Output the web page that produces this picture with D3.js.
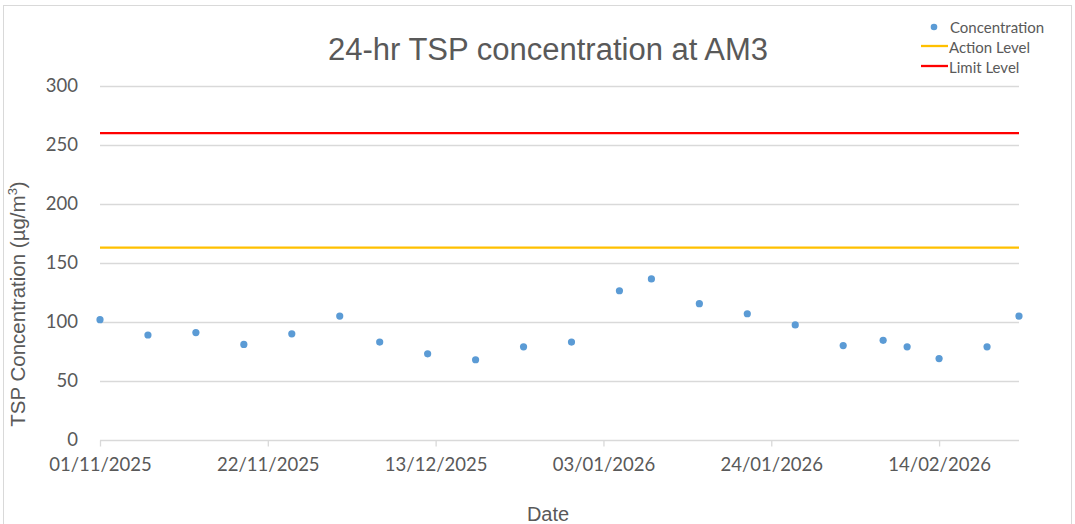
<!DOCTYPE html>
<html>
<head>
<meta charset="utf-8">
<script src="https://cdn.jsdelivr.net/npm/d3@7"></script>
<style>
  body { margin: 0; background: #fff; }
  svg { display: block; }
  .tick text { fill: #595959; }
</style>
</head>
<body>
<div class="plot"></div>
<script>
// DATA
let sampleDates = ["01/11/2025", "07/11/2025", "13/11/2025", "19/11/2025", "25/11/2025", "01/12/2025",
  "06/12/2025", "12/12/2025", "18/12/2025", "24/12/2025", "30/12/2025", "05/01/2026",
  "09/01/2026", "15/01/2026", "21/01/2026", "27/01/2026", "02/02/2026", "07/02/2026",
  "10/02/2026", "14/02/2026", "20/02/2026", "24/02/2026"];
let concentration = [102, 89, 91, 81, 90, 105, 83, 73, 68, 79, 83, 126.5,
  136.5, 115.5, 107, 97.5, 80, 84.5, 79, 69, 79, 105];
let actionLevel = 163;
let limitLevel = 260;
let xTickLabels = ["01/11/2025", "22/11/2025", "13/12/2025", "03/01/2026", "24/01/2026", "14/02/2026"];
let yTicks = [0, 50, 100, 150, 200, 250, 300];

//GENERAL VARIABLE INITIALIZATION
let w = 1075;
let h = 524;
let paddingLeft = 100;
let paddingRight = 1019;
let paddingTop = 86;
let paddingBottom = 440;
let textColor = "#595959";

let parseDate = d3.timeParse("%d/%m/%Y");
let points = sampleDates.map(function(d, i) {
  return { date: parseDate(d), value: concentration[i] };
});

let svg = d3.select(".plot").append("svg")
    .attr("width", w)
    .attr("height", h);

// chart border
svg.append("rect")
    .attr("x", 3.5)
    .attr("y", 5.5)
    .attr("width", 1068)
    .attr("height", 560)
    .attr("fill", "none")
    .attr("stroke", "#d9d9d9")
    .attr("stroke-width", 1);

//SCALES
let xScale = d3.scaleTime()
    .domain([parseDate(sampleDates[0]), parseDate(sampleDates[sampleDates.length - 1])])
    .range([paddingLeft, paddingRight]);

let yScale = d3.scaleLinear()
    .domain([0, 300])
    .range([paddingBottom, paddingTop]);

//GRIDLINES
svg.append("g")
    .selectAll("line")
    .data(yTicks)
    .enter()
    .append("line")
    .attr("x1", paddingLeft)
    .attr("x2", paddingRight)
    .attr("y1", function(d) { return Math.round(yScale(d)) + 0.5; })
    .attr("y2", function(d) { return Math.round(yScale(d)) + 0.5; })
    .attr("stroke", "#d9d9d9")
    .attr("stroke-width", 1.3);

//AXES
let xAxis = d3.axisBottom(xScale)
    .tickValues(xTickLabels.map(parseDate))
    .tickFormat(d3.timeFormat("%d/%m/%Y"))
    .tickSize(6)
    .tickSizeOuter(0);

let gx = svg.append("g")
    .attr("transform", "translate(0," + (Math.round(yScale(0)) + 0.5) + ")")
    .call(xAxis);
gx.select(".domain").remove();
gx.selectAll(".tick line").attr("stroke", "#d9d9d9").attr("stroke-width", 1.3);
gx.selectAll(".tick text")
    .attr("y", 17)
    .attr("font-family", "Lato, 'Open Sans', sans-serif")
    .attr("font-size", "18.5px");

let yAxis = d3.axisLeft(yScale)
    .tickValues(yTicks)
    .tickSize(0);

let gy = svg.append("g")
    .attr("transform", "translate(" + (paddingLeft - 19) + ",0)")
    .call(yAxis);
gy.select(".domain").remove();
gy.selectAll(".tick text")
    .attr("font-family", "Lato, 'Open Sans', sans-serif")
    .attr("font-size", "18.5px");

//LEVEL LINES
let levels = [
  { value: actionLevel, color: "#ffc000" },
  { value: limitLevel, color: "#ff0000" }
];
svg.selectAll(".level")
    .data(levels)
    .enter()
    .append("line")
    .attr("class", "level")
    .attr("x1", paddingLeft)
    .attr("x2", paddingRight)
    .attr("y1", function(d) { return yScale(d.value); })
    .attr("y2", function(d) { return yScale(d.value); })
    .attr("stroke", function(d) { return d.color; })
    .attr("stroke-width", 2.3);

//POINTS
svg.selectAll(".point")
    .data(points)
    .enter()
    .append("circle")
    .attr("class", "point")
    .attr("cx", function(d) { return xScale(d.date); })
    .attr("cy", function(d) { return yScale(d.value); })
    .attr("r", 3.6)
    .attr("fill", "#5b9bd5");

//TITLES
svg.append("text")
    .attr("x", 548)
    .attr("y", 60)
    .attr("text-anchor", "middle")
    .attr("font-family", "'Liberation Sans', Arial, sans-serif")
    .attr("font-size", "31px")
    .attr("fill", textColor)
    .text("24-hr TSP concentration at AM3");

let yTitle = svg.append("text")
    .attr("transform", "translate(25," + 304 + ") rotate(-90)")
    .attr("text-anchor", "middle")
    .attr("font-family", "'Liberation Sans', Arial, sans-serif")
    .attr("font-size", "20.5px")
    .attr("fill", textColor);
yTitle.append("tspan").text("TSP Concentration (µg/m");
yTitle.append("tspan").attr("font-size", "13px").attr("dy", "-8").text("3");
yTitle.append("tspan").attr("dy", "8").text(")");

svg.append("text")
    .attr("x", 548)
    .attr("y", 521)
    .attr("text-anchor", "middle")
    .attr("font-family", "'Liberation Sans', Arial, sans-serif")
    .attr("font-size", "20px")
    .attr("fill", textColor)
    .text("Date");

//LEGEND
let legend = svg.append("g")
    .attr("transform", "translate(921,27)");

legend.append("circle")
    .attr("cx", 13)
    .attr("cy", 0)
    .attr("r", 3.3)
    .attr("fill", "#5b9bd5");

legend.selectAll(".legendLine")
    .data(levels)
    .enter()
    .append("line")
    .attr("class", "legendLine")
    .attr("x1", 0)
    .attr("x2", 27)
    .attr("y1", function(d, i) { return 19 + i * 20; })
    .attr("y2", function(d, i) { return 19 + i * 20; })
    .attr("stroke", function(d) { return d.color; })
    .attr("stroke-width", 2.3);

legend.selectAll(".legendText")
    .data(["Concentration", "Action Level", "Limit Level"])
    .enter()
    .append("text")
    .attr("class", "legendText")
    .attr("x", function(d, i) { return i === 0 ? 29 : 28; })
    .attr("y", function(d, i) { return i * 20; })
    .attr("dominant-baseline", "central")
    .attr("font-family", "Lato, 'Open Sans', sans-serif")
    .attr("font-size", "15px")
    .attr("fill", textColor)
    .text(function(d) { return d; });
</script>
</body>
</html>
